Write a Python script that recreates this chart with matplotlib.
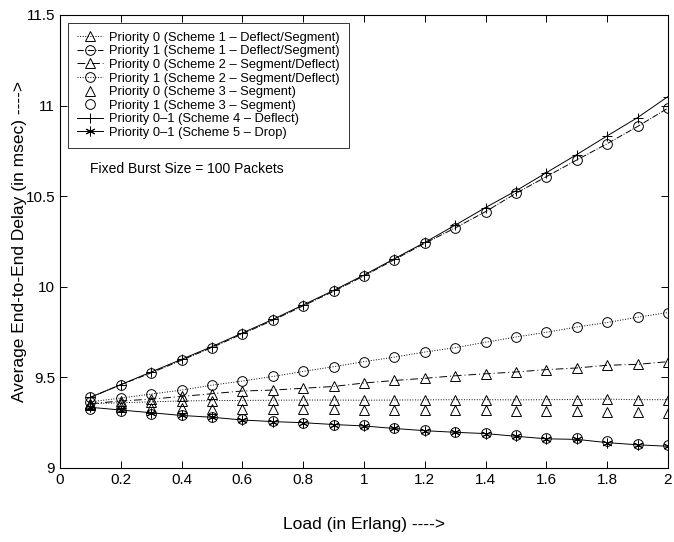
import matplotlib
matplotlib.use("Agg")
import matplotlib.pyplot as plt

plt.rcParams['font.family'] = ['Liberation Sans', 'DejaVu Sans']

# Load (Erlang)
load = [0.1, 0.2, 0.3, 0.4, 0.5, 0.6, 0.7, 0.8, 0.9, 1.0,
        1.1, 1.2, 1.3, 1.4, 1.5, 1.6, 1.7, 1.8, 1.9, 2.0]

# average end-to-end delay (msec)
s1_p0 = [9.355, 9.36, 9.365, 9.37, 9.372, 9.373, 9.374, 9.375, 9.375, 9.374,
         9.375, 9.376, 9.377, 9.377, 9.376, 9.377, 9.378, 9.38, 9.377, 9.377]
s1_p1 = [9.39, 9.46, 9.525, 9.595, 9.665, 9.74, 9.815, 9.895, 9.975, 10.06,
         10.15, 10.24, 10.325, 10.415, 10.516, 10.608, 10.70, 10.79, 10.885, 10.986]
s2_p0 = [9.355, 9.37, 9.38, 9.395, 9.41, 9.425, 9.43, 9.44, 9.45, 9.469,
         9.483, 9.495, 9.509, 9.52, 9.53, 9.543, 9.552, 9.567, 9.572, 9.587]
s2_p1 = [9.365, 9.386, 9.408, 9.43, 9.457, 9.48, 9.505, 9.533, 9.559, 9.587,
         9.612, 9.64, 9.664, 9.694, 9.723, 9.749, 9.778, 9.803, 9.832, 9.858]
s3_p0 = [9.345, 9.335, 9.33, 9.33, 9.328, 9.326, 9.325, 9.325, 9.324, 9.322,
         9.322, 9.32, 9.318, 9.318, 9.316, 9.315, 9.312, 9.31, 9.31, 9.305]
s3_p1 = [9.325, 9.312, 9.30, 9.29, 9.28, 9.268, 9.258, 9.25, 9.24, 9.235,
         9.222, 9.21, 9.2, 9.193, 9.18, 9.168, 9.165, 9.15, 9.135, 9.128]
s4 = [9.39, 9.46, 9.53, 9.60, 9.67, 9.745, 9.82, 9.90, 9.98, 10.065,
      10.155, 10.245, 10.34, 10.4375, 10.53, 10.63, 10.73, 10.833, 10.934, 11.05]
s5 = [9.335, 9.32, 9.305, 9.29, 9.28, 9.265, 9.256, 9.25, 9.24, 9.232,
      9.218, 9.206, 9.197, 9.19, 9.175, 9.161, 9.158, 9.14, 9.128, 9.12]

labels = ['Priority 0 (Scheme 1 \u2013 Deflect/Segment)',
          'Priority 1 (Scheme 1 \u2013 Deflect/Segment)',
          'Priority 0 (Scheme 2 \u2013 Segment/Deflect)',
          'Priority 1 (Scheme 2 \u2013 Segment/Deflect)',
          'Priority 0 (Scheme 3 \u2013 Segment)',
          'Priority 1 (Scheme 3 \u2013 Segment)',
          'Priority 0\u20131 (Scheme 4 \u2013 Deflect)',
          'Priority 0\u20131 (Scheme 5 \u2013 Drop)']

fig = plt.figure(figsize=(6.74, 5.42), dpi=100)
ax = fig.add_axes([60 / 674, 1 - 468 / 542, 608 / 674, 453 / 542])

kw = dict(color='black', linewidth=0.7, markersize=7, markerfacecolor='none',
          markeredgewidth=0.7)
ax.plot(load, s1_p0, linestyle=':', marker='^', label=labels[0], **kw)
ax.plot(load, s1_p1, linestyle='-.', marker='o', label=labels[1], **kw)
ax.plot(load, s2_p0, linestyle=(0, (8, 3, 1, 3)), marker='^', label=labels[2], **kw)
ax.plot(load, s2_p1, linestyle=':', marker='o', label=labels[3], **kw)
ax.plot(load, s3_p0, linestyle='none', marker='^', label=labels[4], **kw)
ax.plot(load, s3_p1, linestyle='none', marker='o', label=labels[5], **kw)
ax.plot(load, s4, linestyle='-', marker='+', label=labels[6], **kw)
# MATLAB-style asterisk
ax.plot(load, s5, linestyle='-', marker=(6, 2, 0), label=labels[7], **kw)

ax.set_xlim(0, 2)
ax.set_ylim(9, 11.5)
ax.set_xticks([0, 0.2, 0.4, 0.6, 0.8, 1, 1.2, 1.4, 1.6, 1.8, 2])
ax.set_xticklabels(['0', '0.2', '0.4', '0.6', '0.8', '1', '1.2', '1.4', '1.6', '1.8', '2'])
ax.set_yticks([9, 9.5, 10, 10.5, 11, 11.5])
ax.set_yticklabels(['9', '9.5', '10', '10.5', '11', '11.5'])
ax.tick_params(direction='in', top=True, right=True, labelsize=11, length=5, width=0.7)
for sp in ax.spines.values():
    sp.set_linewidth(0.8)

ax.set_xlabel('Load (in Erlang) ---->', fontsize=12.5, labelpad=22)
ax.set_ylabel('Average End-to-End Delay (in msec) ---->', fontsize=12.5, labelpad=-1)

leg = ax.legend(loc='upper left', frameon=True, fancybox=False, fontsize=9.3,
                edgecolor='black', handlelength=2.0, handletextpad=0.5,
                borderpad=0.7, labelspacing=0.12, borderaxespad=0.6)
leg.get_frame().set_linewidth(0.7)

ax.text(0.1, 10.65, 'Fixed Burst Size = 100 Packets', fontsize=10, va='center')

fig.savefig('out.png', dpi=100)
